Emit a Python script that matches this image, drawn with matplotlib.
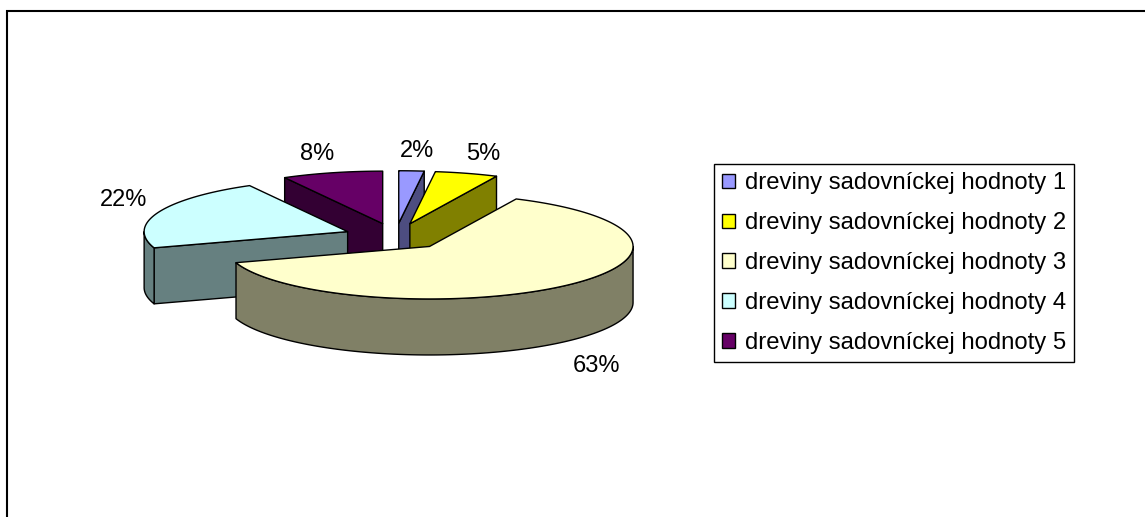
import numpy as np
import matplotlib
matplotlib.use("Agg")
import matplotlib.pyplot as plt
from matplotlib.patches import Patch, Polygon

# datos del grafico
categorias = ["dreviny sadovníckej hodnoty 1", "dreviny sadovníckej hodnoty 2",
              "dreviny sadovníckej hodnoty 3", "dreviny sadovníckej hodnoty 4",
              "dreviny sadovníckej hodnoty 5"]
valores = [2, 5, 63, 22, 8]
etiquetas = ["2%", "5%", "63%", "22%", "8%"]
colores_top = ["#9999FF", "#FFFF00", "#FFFFCC", "#CCFFFF", "#660066"]
colores_lado = ["#4D4D80", "#808000", "#808066", "#668080", "#330033"]

# geometria en pixeles de la figura
W, H = 1145, 517
CX, CY = 395.5, 236.5
A, B = 203.5, 52.5
PROF = 56.0
EXPLODE = 0.253
LW = 1.0
FS = 17
FS_LEYENDA = 17.2
pos_etiquetas = [(417, 151), (483, 153.5), (597, 365.5), (124, 200.5), (317, 153.5)]


def borde(t):
    return A * np.sin(t), -B * np.cos(t)


plt.rcParams['font.family'] = ['Liberation Sans', 'DejaVu Sans']
fig = plt.figure(figsize=(W / 100, H / 100), dpi=100)
ax = fig.add_axes([0, 0, 1, 1])
ax.set_xlim(0, W)
ax.set_ylim(H, 0)
ax.axis("off")

# marco exterior
ax.plot([6.5, 6.5, W + 5], [H + 5, 11, 11], color="black", lw=1.5, solid_joinstyle="miter")

acum = np.cumsum([0] + valores) / sum(valores) * 2 * np.pi
rebanadas = []
for i in range(len(valores)):
    t0, t1 = acum[i], acum[i + 1]
    ex, ey = borde((t0 + t1) / 2)
    rebanadas.append((CY + EXPLODE * ey, i, t0, t1, CX + EXPLODE * ex, CY + EXPLODE * ey))

# de atras hacia adelante
for _, i, t0, t1, x0, y0 in sorted(rebanadas):
    def cara(t):
        dx, dy = borde(t)
        pts = [(x0, y0), (x0 + dx, y0 + dy), (x0 + dx, y0 + dy + PROF), (x0, y0 + PROF)]
        ax.add_patch(Polygon(pts, closed=True, fc=colores_lado[i], ec="black", lw=LW, joinstyle="round"))

    if np.sin(t1) > 1e-6:
        cara(t1)
    if -np.sin(t0) > 1e-6:
        cara(t0)

    # pared curva visible (frente de la elipse)
    a0, a1 = max(t0, np.pi / 2), min(t1, 3 * np.pi / 2)
    if a1 > a0:
        tt = np.linspace(a0, a1, 200)
        dx, dy = borde(tt)
        arriba = np.column_stack([x0 + dx, y0 + dy])
        abajo = np.column_stack([x0 + dx, y0 + dy + PROF])[::-1]
        ax.add_patch(Polygon(np.vstack([arriba, abajo]), closed=True, fc=colores_lado[i],
                             ec="black", lw=LW, joinstyle="round"))

    tt = np.linspace(t0, t1, 300)
    dx, dy = borde(tt)
    pts = np.vstack([[x0, y0], np.column_stack([x0 + dx, y0 + dy])])
    ax.add_patch(Polygon(pts, closed=True, fc=colores_top[i], ec="black", lw=LW, joinstyle="round"))

for txt, (x, y) in zip(etiquetas, pos_etiquetas):
    ax.text(x, y, txt, fontsize=FS, ha="center", va="center", color="black")

handles = [Patch(fc=c, ec="black", lw=LW) for c in colores_top]
leg = ax.legend(handles, categorias, loc="upper left", bbox_to_anchor=(713.7, 164.3),
                bbox_transform=ax.transData, fontsize=FS_LEYENDA, frameon=True, fancybox=False,
                edgecolor="black", framealpha=1, borderpad=0.34, borderaxespad=0,
                handlelength=0.57, handleheight=0.57, handletextpad=0.4, labelspacing=0.75)
leg.get_frame().set_linewidth(LW)

fig.savefig("out.png", dpi=100)
